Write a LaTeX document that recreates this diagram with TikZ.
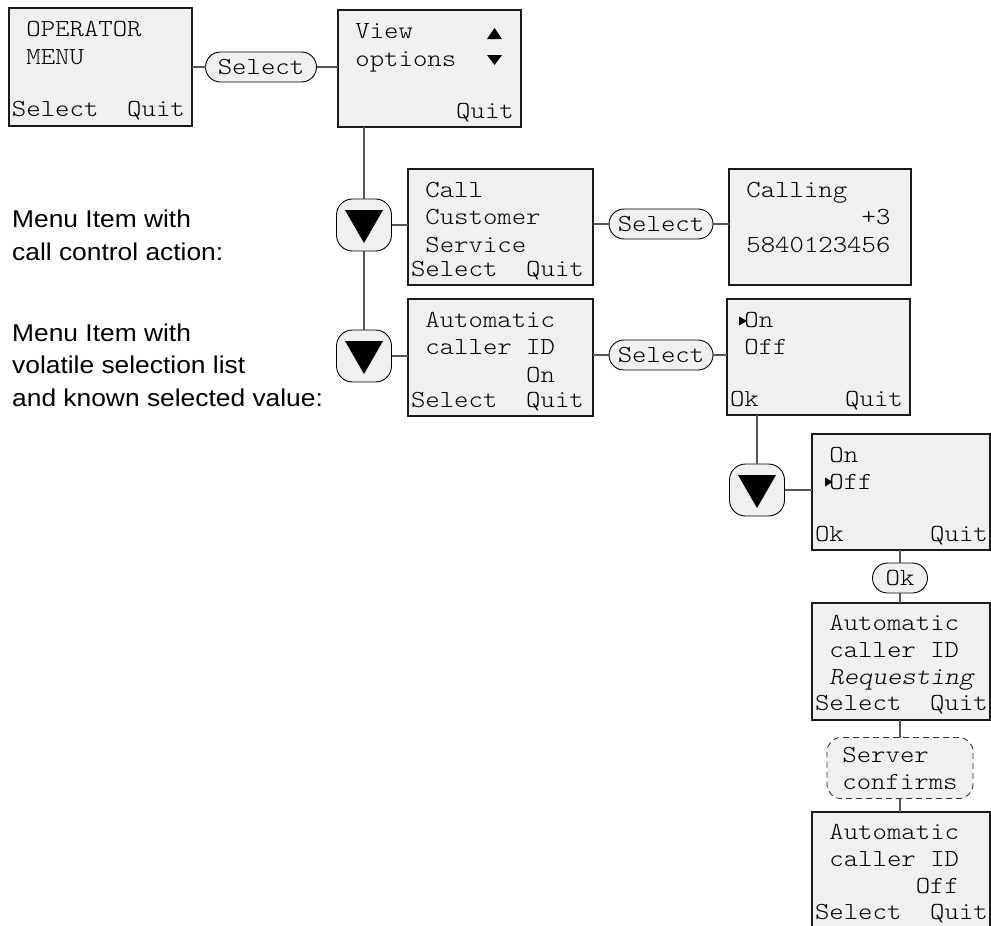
\documentclass[tikz,border=0pt]{standalone}
\usepackage{fontspec}
\setmainfont{Liberation Sans}[FakeStretch=1.085]
\newfontfamily\scrfont{lmmonolt10-regular.otf}[FakeStretch=1.12, ItalicFont=lmmonolt10-oblique.otf]
\usetikzlibrary{calc}

\definecolor{scrfill}{HTML}{F0F0F0}
\definecolor{wire}{HTML}{555555}
\definecolor{rim}{HTML}{1A1A1A}

% character cell of the phone display font
\newcommand\cw{14.4}
% \scrrow{node name}{screen}{column}{baseline offset}{text}
\newcommand\scrrow[5]{\node[scrtxt] (#1) at ($(#2.north west)+(3+#3*\cw,#4)$) {#5};}
% big "scroll down" key triangle
\newcommand\downtri[1]{\fill[black] ($(#1)+(-19,-15)$) -- ($(#1)+(19,-15)$) -- ($(#1)+(0,18)$) -- cycle;}

\tikzset{
  screen/.style={draw=rim, line width=2pt, fill=scrfill, inner sep=0pt, outer sep=0pt, anchor=north west},
  scrtxt/.style={anchor=base west, inner sep=0pt, outer sep=0pt, font=\scrfont\fontsize{24.5}{24.5}\selectfont},
  pill/.style={draw=black, line width=0.9pt, fill=scrfill, rounded corners=15pt, minimum height=30, inner sep=0pt, outer sep=0pt, font=\scrfont\fontsize{24.5}{24.5}\selectfont},
  keybtn/.style={draw=black, line width=0.9pt, fill=scrfill, rounded corners=16pt, minimum width=55, minimum height=52, inner sep=0pt, outer sep=0pt},
  event/.style={draw=black!80, line width=0.9pt, dash pattern=on 6pt off 4pt, fill=scrfill, rounded corners=14pt, minimum width=146, minimum height=61, inner sep=0pt, outer sep=0pt, align=left, font=\scrfont\fontsize{24.5}{27}\selectfont},
  wire/.style={draw=wire, line width=1.3pt},
  % multi-line label: the base anchor sits on the last line
  lbl/.style={anchor=base west, inner sep=0pt, align=left, font=\fontsize{24.3}{32.5}\selectfont},
}

\begin{document}
\begin{tikzpicture}[x=1pt,y=-1pt]
\useasboundingbox (0,0) rectangle (991,926);

% ---- screens ----
\node[screen, minimum width=183, minimum height=118] (opmenu) at (9,8) {};
\node[screen, minimum width=183, minimum height=117] (view) at (338,10) {};
\node[screen, minimum width=185, minimum height=116] (callcs) at (408,169) {};
\node[screen, minimum width=182, minimum height=116] (calling) at (729,169) {};
\node[screen, minimum width=185, minimum height=117] (autoid) at (408,299) {};
\node[screen, minimum width=183, minimum height=116] (choice1) at (727,299) {};
\node[screen, minimum width=177.5, minimum height=116] (choice2) at (812,434) {};
\node[screen, minimum width=177.5, minimum height=117] (reqst) at (812,603) {};
\node[screen, minimum width=177.5, minimum height=122] (final) at (812,812) {};

% ---- screen texts ----
\scrrow{op1}{opmenu}{1}{28}{OPERATOR}
\scrrow{op2}{opmenu}{1}{56}{MENU}
\scrrow{op3}{opmenu}{0}{108}{Select}
\scrrow{op4}{opmenu}{8}{108}{Quit}

\scrrow{vw1}{view}{1}{28}{View}
\scrrow{vw2}{view}{1}{56}{options}
\scrrow{vw3}{view}{8}{108}{Quit}
\fill[black] ($(view.north west)+(149,29)$) -- ($(view.north west)+(164,29)$) -- ($(view.north west)+(156.5,18)$) -- cycle;
\fill[black] ($(view.north west)+(149,45)$) -- ($(view.north west)+(164,45)$) -- ($(view.north west)+(156.5,55)$) -- cycle;

\scrrow{cc1}{callcs}{1}{28}{Call}
\scrrow{cc2}{callcs}{1}{55}{Customer}
\scrrow{cc3}{callcs}{1}{83}{Service}
\scrrow{cc4}{callcs}{0}{107}{Select}
\scrrow{cc5}{callcs}{8}{107}{Quit}

\scrrow{cl1}{calling}{1}{28}{Calling}
\scrrow{cl2}{calling}{9}{55}{+3}
\scrrow{cl3}{calling}{1}{83}{5840123456}

\scrrow{ai1}{autoid}{1}{28}{Automatic}
\scrrow{ai2}{autoid}{1}{55}{caller ID}
\scrrow{ai3}{autoid}{8}{83}{On}
\scrrow{ai4}{autoid}{0}{108}{Select}
\scrrow{ai5}{autoid}{8}{108}{Quit}

\fill[black] ($(choice1.north west)+(12,17.5)$) -- ($(choice1.north west)+(12,26.5)$) -- ($(choice1.north west)+(20,22)$) -- cycle;
\scrrow{ca1}{choice1}{1}{28}{On}
\scrrow{ca2}{choice1}{1}{55}{Off}
\scrrow{ca3}{choice1}{0}{107}{Ok}
\scrrow{ca4}{choice1}{8}{107}{Quit}

\fill[black] ($(choice2.north west)+(13,43.5)$) -- ($(choice2.north west)+(13,52.5)$) -- ($(choice2.north west)+(20.5,48)$) -- cycle;
\scrrow{cb1}{choice2}{1}{28}{On}
\scrrow{cb2}{choice2}{1}{55}{Off}
\scrrow{cb3}{choice2}{0}{107}{Ok}
\scrrow{cb4}{choice2}{8}{107}{Quit}

\scrrow{rq1}{reqst}{1}{27}{Automatic}
\scrrow{rq2}{reqst}{1}{54}{caller ID}
\scrrow{rq3}{reqst}{1}{81}{\itshape Requesting}
\scrrow{rq4}{reqst}{0}{107}{Select}
\scrrow{rq5}{reqst}{8}{107}{Quit}

\scrrow{fn1}{final}{1}{27}{Automatic}
\scrrow{fn2}{final}{1}{54}{caller ID}
\scrrow{fn3}{final}{7}{81}{Off}
\scrrow{fn4}{final}{0}{107}{Select}
\scrrow{fn5}{final}{8}{107}{Quit}

% ---- soft keys and events ----
\node[pill, minimum width=111] (sel1) at (261,67) {Select};
\node[pill, minimum width=104] (sel2) at (661,224) {Select};
\node[pill, minimum width=104] (sel3) at (661,355) {Select};
\node[pill, minimum width=55] (okp) at (900,578) {Ok};
\node[event] (server) at (900,768) {Server\\confirms};

\node[keybtn] (dn1) at (364,225) {};
\node[keybtn] (dn2) at (364,356) {};
\node[keybtn] (dn3) at (757,490) {};
\downtri{dn1}
\downtri{dn2}
\downtri{dn3}

% ---- connectors ----
\draw[wire] (opmenu.east |- sel1.west) -- (sel1.west);
\draw[wire] (sel1.east) -- (view.west |- sel1.east);
\draw[wire] (view.south -| dn1.north) -- (dn1.north);
\draw[wire] (dn1.south) -- (dn2.north);
\draw[wire] (dn1.east) -- (callcs.west |- dn1.east);
\draw[wire] (dn2.east) -- (autoid.west |- dn2.east);
\draw[wire] (callcs.east |- sel2.west) -- (sel2.west);
\draw[wire] (sel2.east) -- (calling.west |- sel2.east);
\draw[wire] (autoid.east |- sel3.west) -- (sel3.west);
\draw[wire] (sel3.east) -- (choice1.west |- sel3.east);
\draw[wire] (choice1.south -| dn3.north) -- (dn3.north);
\draw[wire] (dn3.east) -- (choice2.west |- dn3.east);
\draw[wire] (choice2.south -| okp.north) -- (okp.north);
\draw[wire] (okp.south) -- (reqst.north -| okp.south);
\draw[wire] (reqst.south -| server.north) -- (server.north);
\draw[wire] (server.south) -- (final.north -| server.south);

% ---- explanatory labels ----
\node[lbl] (lab1) at (12,260) {Menu Item with\\call control action:};
\node[lbl] (lab2) at (12,406) {Menu Item with\\volatile selection list\\and known selected value:};
\end{tikzpicture}
\end{document}
